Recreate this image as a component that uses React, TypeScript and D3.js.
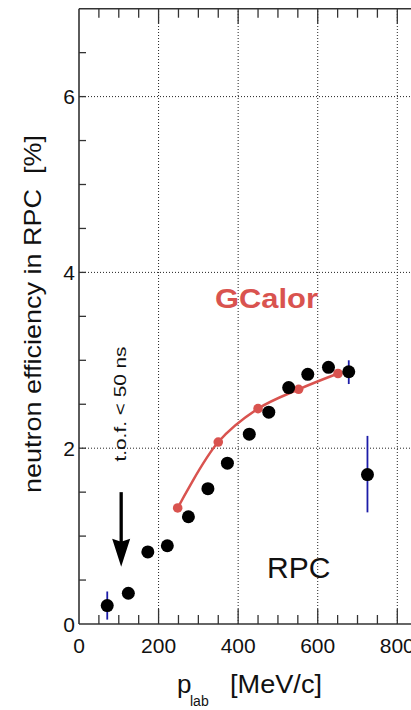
import React from "react";
import * as d3 from "d3";

const rpcP = [71, 124, 173, 222, 275, 324, 373, 428, 477, 527, 575, 627, 678, 725];
const rpcEff = [0.21, 0.35, 0.82, 0.89, 1.22, 1.54, 1.83, 2.16, 2.41, 2.69, 2.84, 2.92, 2.87, 1.7];
const rpcErrLo = [0.05, null, null, null, null, null, null, null, null, null, null, null, 2.73, 1.27];
const rpcErrHi = [0.37, null, null, null, null, null, null, null, null, null, null, null, 3.0, 2.14];

const gcalorP = [248, 350, 450, 552, 651];
const gcalorEff = [1.32, 2.07, 2.45, 2.67, 2.85];

const xTicks = [0, 200, 400, 600, 800];
const yTicks = [0, 2, 4, 6];

const W = 411;
const H = 710;

export default function App() {
  const x = d3.scaleLinear().domain([0, 800]).range([79, 397.3]);
  const y = d3.scaleLinear().domain([0, 7]).range([624, 8.7]);
  const xMax = 860;
  const axisColor = "#333";

  const xMinor = d3.range(50, xMax, 50);
  const yMinor = d3.range(0.5, 7, 0.5);

  const line = d3
    .line<number>()
    .x((_, i) => x(gcalorP[i]))
    .y((d) => y(d))
    .curve(d3.curveCatmullRom.alpha(0.5));

  const red = "#d9534f";
  const blue = "#1c1ca8";
  const font = "Liberation Sans, Arial, sans-serif";

  const arrowX = x(106);
  const arrowTop = y(1.5);
  const arrowTip = y(0.65);

  return (
    <div style={{ position: "absolute", left: 0, top: 0 }}>
      <svg width={W} height={H} style={{ display: "block", background: "#fff" }}>
        <rect width={W} height={H} fill="#fff" />
        {/* grid */}
        {xTicks.filter((t) => t > 0).map((t) => (
          <line key={"gx" + t} x1={x(t)} x2={x(t)} y1={y(0)} y2={y(7)} stroke="#222" strokeWidth={1} strokeDasharray="1,2" />
        ))}
        {yTicks.filter((t) => t > 0).map((t) => (
          <line key={"gy" + t} x1={x(0)} x2={W} y1={y(t)} y2={y(t)} stroke="#222" strokeWidth={1} strokeDasharray="1,2" />
        ))}
        {/* ticks */}
        {xMinor.map((t) => {
          const major = t % 200 === 0;
          const len = major ? 15 : 9;
          return (
            <g key={"xt" + t}>
              <line x1={x(t)} x2={x(t)} y1={y(0)} y2={y(0) - len} stroke={axisColor} strokeWidth={1.3} />
              <line x1={x(t)} x2={x(t)} y1={y(7)} y2={y(7) + len} stroke={axisColor} strokeWidth={1.3} />
            </g>
          );
        })}
        {yMinor.map((t) => (
          <line key={"yt" + t} x1={x(0)} x2={x(0) + 7} y1={y(t)} y2={y(t)} stroke={axisColor} strokeWidth={1.3} />
        ))}
        {/* frame */}
        <line x1={x(0)} x2={W} y1={y(0)} y2={y(0)} stroke={axisColor} strokeWidth={1.6} />
        <line x1={x(0)} x2={W} y1={y(7)} y2={y(7)} stroke={axisColor} strokeWidth={1.6} />
        <line x1={x(0)} x2={x(0)} y1={y(0)} y2={y(7)} stroke={axisColor} strokeWidth={1.6} />
        {/* tick labels */}
        {xTicks.map((t) => (
          <text key={"xl" + t} x={x(t)} y={653} textAnchor="middle" fontFamily={font} fontSize={21} fill="#111">
            {t}
          </text>
        ))}
        {yTicks.map((t) => (
          <text key={"yl" + t} x={75} y={y(t) + 7.5} textAnchor="end" fontFamily={font} fontSize={21} fill="#111">
            {t}
          </text>
        ))}
        {/* axis titles */}
        <text x={177} y={693} fontFamily={font} fontSize={26} fill="#111">p</text>
        <text x={190} y={706} fontFamily={font} fontSize={14} fill="#111">lab</text>
        <text x={230} y={693} fontFamily={font} fontSize={26} fill="#111" textLength={92} lengthAdjust="spacingAndGlyphs">[MeV/c]</text>
        <text
          transform={`translate(41,${314}) rotate(-90)`}
          textAnchor="middle"
          fontFamily={font}
          fontSize={24}
          fill="#111"
          textLength={358}
          lengthAdjust="spacingAndGlyphs"
        >
          {"neutron efficiency in RPC\u00A0\u00A0[%]"}
        </text>
        {/* annotations */}
        <text
          transform={`translate(126,${404}) rotate(-90)`}
          textAnchor="middle"
          fontFamily={font}
          fontSize={17}
          fill="#111"
          textLength={115}
          lengthAdjust="spacingAndGlyphs"
        >
          {"t.o.f. < 50 ns"}
        </text>
        <line x1={arrowX} x2={arrowX} y1={arrowTop} y2={arrowTip - 12} stroke="#000" strokeWidth={3.3} />
        <path
          d={`M${arrowX - 9},${arrowTip - 28} L${arrowX},${arrowTip - 25} L${arrowX + 9},${arrowTip - 28} L${arrowX},${arrowTip} Z`}
          fill="#000"
        />
        <text x={215} y={308} fontFamily={font} fontSize={27} fontWeight="bold" fill={red} textLength={103} lengthAdjust="spacingAndGlyphs">
          GCalor
        </text>
        <text x={267} y={578} fontFamily={font} fontSize={30} fill="#111">
          RPC
        </text>
        {/* GCalor curve */}
        <path d={line(gcalorEff) || ""} fill="none" stroke={red} strokeWidth={2.5} />
        {gcalorEff.map((v, i) => (
          <circle key={"gc" + i} cx={x(gcalorP[i])} cy={y(v)} r={4.8} fill={red} />
        ))}
        {/* error bars */}
        {rpcEff.map((v, i) =>
          rpcErrLo[i] != null ? (
            <line key={"eb" + i} x1={x(rpcP[i])} x2={x(rpcP[i])} y1={y(rpcErrLo[i] as number)} y2={y(rpcErrHi[i] as number)} stroke={blue} strokeWidth={1.8} />
          ) : null
        )}
        {/* RPC points */}
        {rpcEff.map((v, i) => (
          <circle key={"rp" + i} cx={x(rpcP[i])} cy={y(v)} r={6.5} fill="#000" />
        ))}
      </svg>
    </div>
  );
}
